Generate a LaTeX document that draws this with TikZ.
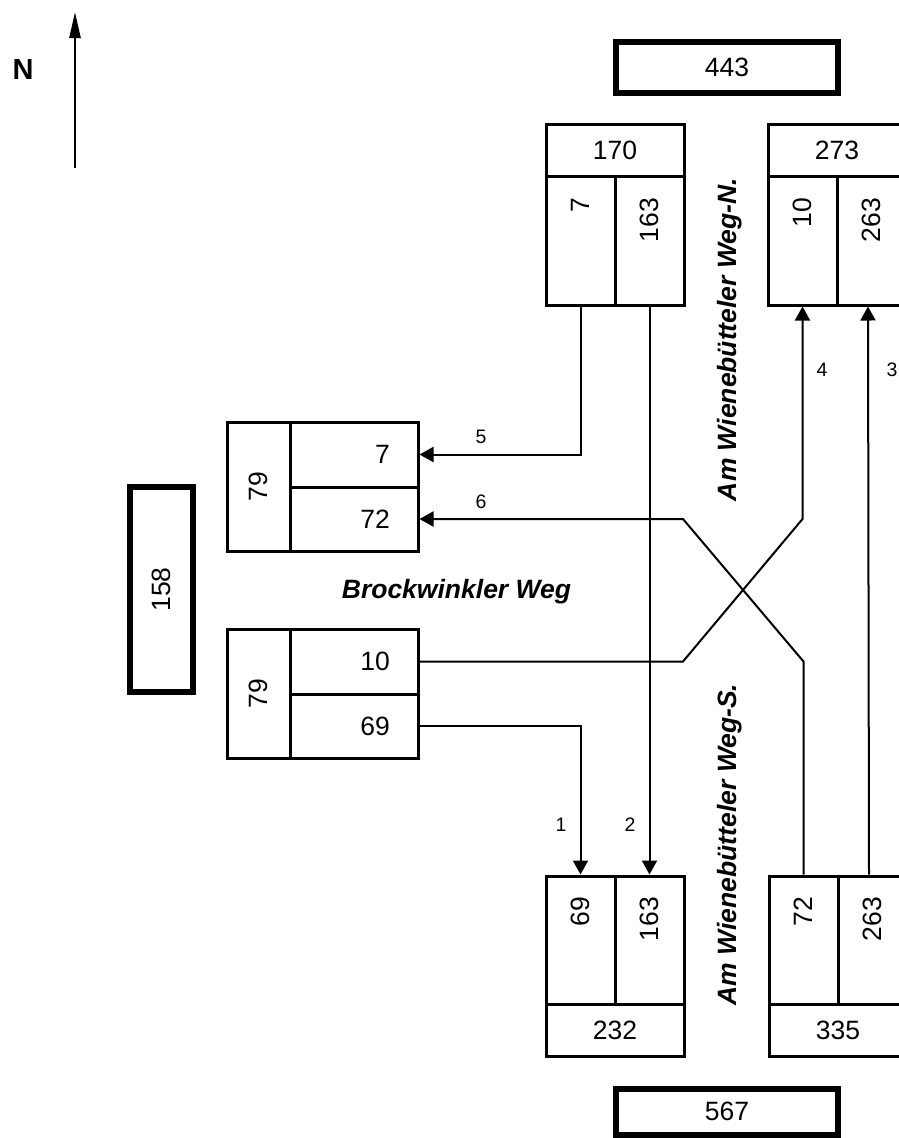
\documentclass[tikz,border=0pt]{standalone}
\usepackage{fontspec}
\setmainfont{Liberation Sans}
\usetikzlibrary{arrows.meta,calc}
\tikzset{
  box/.style={draw, line width=3pt, inner sep=0pt, outer sep=1.5pt},
  thickbox/.style={draw, line width=6pt, inner sep=0pt, outer sep=3pt},
  num/.style={font=\fontsize{26.5}{30}\selectfont, inner sep=0pt},
  small/.style={font=\fontsize{19.5}{22}\selectfont, inner sep=0pt},
  street/.style={font=\fontsize{26.5}{30}\selectfont\bfseries\itshape, inner sep=0pt},
  conn/.style={line width=2pt, -{Triangle[length=14pt,width=15pt]}},
}
\begin{document}
\begin{tikzpicture}[x=1pt,y=-1pt]
\useasboundingbox (0,0) rectangle (899,1138);

% North arrow
\node[font=\fontsize{29}{30}\selectfont\bfseries, inner sep=0pt] (north) at (23,70) {N};
\coordinate (nb) at (75,168);
\coordinate (nt) at (75,12);
\draw[line width=2.5pt, -{Triangle[length=26pt,width=11pt]}] (nb) -- (nt);

% thick boxes
\node[thickbox, num, minimum width=222, minimum height=51.5] (b443) at (727,67.25) {443};
\node[thickbox, num, minimum width=222, minimum height=46.5] (b567) at (727,1111.75) {567};
\node[thickbox, minimum width=63, minimum height=205] (b158) at (161.5,589.5) {};
\node[num, rotate=90] (t158) at (161.5,589.5) {158};

% box 170
\node[box, num, minimum width=138, minimum height=52] (h170) at (615,150) {170};
\node[box, minimum width=69, minimum height=129] (c170a) at (580.5,240.5) {};
\node[box, minimum width=69, minimum height=129] (c170b) at (649.5,240.5) {};
\node[num, rotate=90, anchor=east] (t170a) at (580.5,198) {7};
\node[num, rotate=90, anchor=east] (t170b) at (649.5,198) {163};

% box 273
\node[box, num, minimum width=138, minimum height=52] (h273) at (837,150) {273};
\node[box, minimum width=69, minimum height=129] (c273a) at (802.5,240.5) {};
\node[box, minimum width=69, minimum height=129] (c273b) at (871.5,240.5) {};
\node[num, rotate=90, anchor=east] (t273a) at (802.5,198) {10};
\node[num, rotate=90, anchor=east] (t273b) at (871.5,198) {263};

% box 232
\node[box, minimum width=69, minimum height=128] (c232a) at (580.5,940) {};
\node[box, minimum width=69, minimum height=128] (c232b) at (649.5,940) {};
\node[box, num, minimum width=138, minimum height=52] (f232) at (615,1030) {232};
\node[num, rotate=90, anchor=east] (t232a) at (580.5,897) {69};
\node[num, rotate=90, anchor=east] (t232b) at (649.5,897) {163};

% box 335
\node[box, minimum width=69, minimum height=128] (c335a) at (803.5,940) {};
\node[box, minimum width=69, minimum height=128] (c335b) at (872.5,940) {};
\node[box, num, minimum width=138, minimum height=52] (f335) at (838,1030) {335};
\node[num, rotate=90, anchor=east] (t335a) at (803.5,897) {72};
\node[num, rotate=90, anchor=east] (t335b) at (872.5,897) {263};

% left box upper
\node[box, minimum width=63, minimum height=129] (cL1) at (258.5,486.5) {};
\node[num, rotate=90] (tL1) at (258.5,486.5) {79};
\node[box, minimum width=128, minimum height=65] (c7) at (354,454.5) {};
\node[box, minimum width=128, minimum height=64] (c72) at (354,519) {};
\node[num, anchor=east] (t7) at (390,454.5) {7};
\node[num, anchor=east] (t72) at (390,519) {72};

% left box lower
\node[box, minimum width=63, minimum height=129] (cL2) at (258.5,693.5) {};
\node[num, rotate=90] (tL2) at (258.5,693.5) {79};
\node[box, minimum width=128, minimum height=65] (c10) at (354,661.5) {};
\node[box, minimum width=128, minimum height=64] (c69) at (354,726) {};
\node[num, anchor=east] (t10) at (390,661.5) {10};
\node[num, anchor=east] (t69) at (390,726) {69};

% street names
\node[street, rotate=90, anchor=base] (sN) at (736,339.5) {Am Wienebütteler Weg-N.};
\node[street, rotate=90, anchor=base] (sS) at (736,844.5) {Am Wienebütteler Weg-S.};
\node[street, anchor=base] (sB) at (456.5,598) {Brockwinkler Weg};

% bend points
\coordinate (k4a) at (683,661.5);
\coordinate (k4b) at (802.5,519);
\coordinate (k6a) at (803.5,661.5);
\coordinate (k6b) at (683,519);

% connectors
\draw[conn] (c69.east) -| (c232a.north);
\draw[conn] (c170b.south) -- (c232b.north);
\draw[conn] ($(c335b.north)+(-3.5,0)$) -- ($(c273b.south)+(-3.5,0)$);
\draw[conn] (c10.east) -- (k4a) -- (k4b) -- (c273a.south);
\draw[conn] (c170a.south) |- (c7.east);
\draw[conn] (c335a.north) -- (k6a) -- (k6b) -- (c72.east);

% connector labels
\node[small] (l1) at (561,825) {1};
\node[small] (l2) at (630,825) {2};
\node[small] (l3) at (892,370) {3};
\node[small] (l4) at (822,370) {4};
\node[small] (l5) at (481,437) {5};
\node[small] (l6) at (481,502) {6};
\end{tikzpicture}
\end{document}
